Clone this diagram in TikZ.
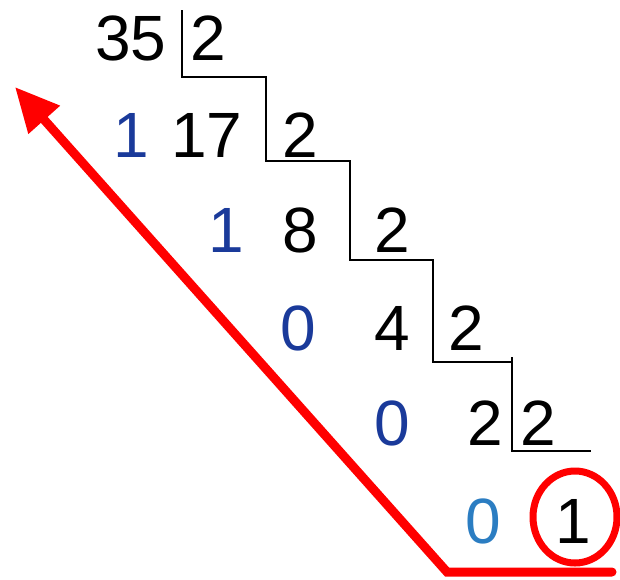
\documentclass[tikz,border=0pt]{standalone}
\usepackage{fontspec}
\setmainfont{Liberation Sans}
\usetikzlibrary{arrows.meta,shapes.geometric}
\definecolor{ink}{HTML}{000000}
\definecolor{rest}{HTML}{1A3A9A}
\definecolor{restlast}{HTML}{2B7DC2}
\definecolor{signal}{HTML}{FF0000}
\tikzset{
  num/.style={anchor=base,inner sep=0pt,text=ink,font=\fontsize{64}{64}\selectfont},
  rem/.style={num,text=rest},
  bar/.style={draw=ink,line width=1.3pt},
}
\begin{document}
\begin{tikzpicture}[x=1pt,y=-1pt]
\useasboundingbox (0,0) rectangle (620,579);
% quotients and divisors
\node[num] (q0) at (131,60) {35};
\node[num] (dv0) at (208,60) {2};
\node[rem] (r1) at (131,157) {1};
\node[num] (q1) at (207,157) {17};
\node[num] (dv1) at (300,157) {2};
\node[rem] (r2) at (226,252) {1};
\node[num] (q2) at (300,252) {8};
\node[num] (dv2) at (392,252) {2};
\node[rem] (r3) at (298,350) {0};
\node[num] (q3) at (392,350) {4};
\node[num] (dv3) at (466,350) {2};
\node[rem] (r4) at (392,445) {0};
\node[num] (q4) at (485,445) {2};
\node[num] (dv4) at (538,445) {2};
\node[rem,text=restlast] (r5) at (483,543) {0};
\node[num] (q5) at (573,543) {1};
% staircase
\draw[bar] (182,10) -- (182,77) -- (266,77) -- (266,161) -- (350,161)
  -- (350,260) -- (433,260) -- (433,362) -- (513,362);
\draw[bar] (512,357) -- (512,451) -- (591,451);
% read-off arrow
\node[draw=signal,line width=7pt,ellipse,minimum width=84pt,minimum height=92pt] (ring) at (575,517) {};
\coordinate (tail) at (612,572);
\coordinate (bend) at (447,572);
\coordinate (tip) at (15,87);
\draw[signal,line width=9pt,line cap=round,-{Triangle[length=44pt,width=40pt]}]
  (tail) -- (bend) -- (tip);
\end{tikzpicture}
\end{document}
